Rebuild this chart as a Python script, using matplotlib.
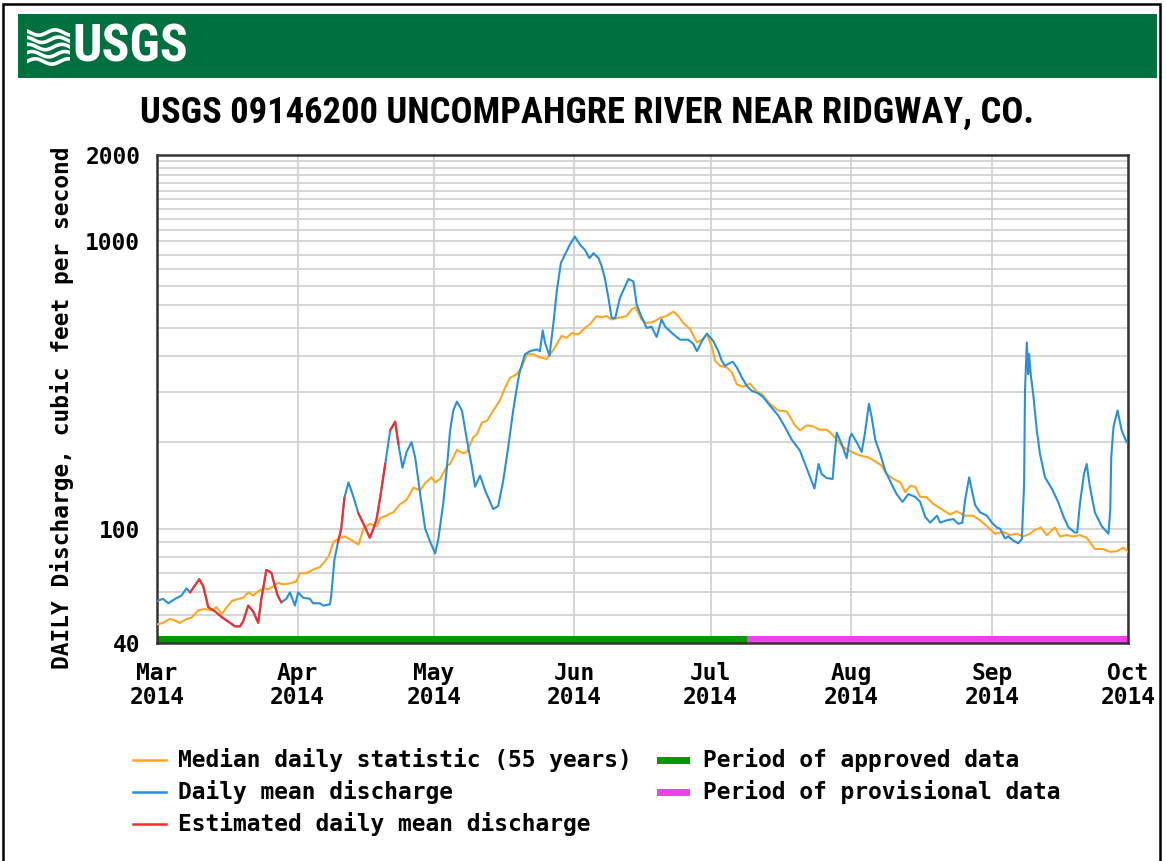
import matplotlib
matplotlib.use('Agg')
import matplotlib.pyplot as plt
from matplotlib import font_manager
from matplotlib.ticker import NullFormatter
from matplotlib.patches import Rectangle
from matplotlib.lines import Line2D
import numpy as np
import pandas as pd

plt.rcParams['font.family'] = ['DejaVu Sans Mono']
plt.rcParams['font.weight'] = 'bold'
plt.rcParams['font.size'] = 16.5

# narrowest sans available for title / logo
installed = {f.name for f in font_manager.fontManager.ttflist}
narrow = next((n for n in ['Liberation Sans Narrow', 'Roboto Condensed', 'Open Sans Condensed',
                           'Noto Sans Condensed', 'Roboto', 'Liberation Sans'] if n in installed),
              'DejaVu Sans')

start = pd.Timestamp('2014-03-01')
end = pd.Timestamp('2014-10-01')
approved_end = pd.Timestamp('2014-07-09')

# daily mean discharge (cfs), x = days after Mar 1 2014
q_days = [0, 1.3, 2.5, 4, 5.4, 6.5, 7.3, 9.3, 10.2, 11.3, 12.8, 14.3, 16.2, 17.2, 18.3, 19,
          20.1, 21.2, 22.3, 23, 24.1, 25.2, 25.9, 26.6, 27.4, 28.5, 29.3, 30.4, 31.1, 32.2,
          33.7, 34.4, 35.9, 36.6, 38.1, 38.4, 39.1, 39.9, 40.6, 41.3, 42.2, 43.3, 44.4, 45.5,
          46.9, 47.7, 48.4, 49.2, 50.3, 51.4, 52.5, 53.2, 54.1, 55, 56.1, 56.9, 58, 59.1,
          60.2, 61.3, 62, 63.1, 63.9, 64.6, 65.3, 66.1, 67.2, 68.3, 69.4, 70.1, 71.2, 72.3,
          74.1, 75.2, 76.3, 77.4, 78.5, 79.6, 80, 81.1, 82.2, 83.7, 84.4, 85, 85.5, 86.5,
          87.4, 88.1, 89, 89.9, 91, 92.1, 93.2, 94.3, 95.3, 96.2, 97.3, 98, 98.7, 99.5,
          100.2, 101, 102, 103.2, 103.9, 105, 105.7, 106.5, 107.9, 109, 110.1, 111.2, 112,
          113.8, 115.3, 117.1, 118.2, 119, 120.1, 121.2, 122.6, 123.7, 124.5, 125.2, 126.3,
          126.9, 127.8, 128.9, 130, 131.1, 132.5, 133.6, 135.1, 136.9, 138.4, 139.9, 141.7,
          143.2, 144.9, 145.8, 146.5, 147.6, 148.9, 149.4, 149.8, 150.9, 152, 152.7, 153.1,
          154.2, 155.3, 156, 156.9, 157.5, 158.3, 159.4, 160.5, 161.9, 163, 164.3, 165.6,
          167.1, 168.2, 169.3, 170.4, 171.9, 172.6, 174.1, 175.5, 176.6, 177.5, 178.1, 179,
          179.6, 180.3, 181.4, 182.9, 184, 185.1, 185.8, 186.9, 187.6, 188.7, 189.8, 190.6,
          191.1, 191.3, 191.7, 192, 192.2, 192.6, 193.1, 193.9, 194.6, 195.7, 197.2, 198.6,
          199.8, 200.9, 202.3, 202.8, 203.4, 204.3, 204.9, 205.6, 206.7, 208.2, 209.7, 210.1,
          210.3, 210.8, 211.7, 212.6, 213.7]
q_vals = [56, 57, 55, 57, 58.5, 62, 60, 66.7, 63, 53.3, 51.5, 49.2, 46.9, 45.7, 45.7, 47.6,
          54, 51.5, 47, 57, 71.8, 70.3, 63.8, 58.5, 55.4, 57, 60, 54, 60, 57.5,
          57, 55, 55, 54, 54.5, 58.5, 78, 90, 100, 128, 145, 129, 113, 104,
          93, 100, 108, 129, 168, 220, 236, 197, 163, 185, 200, 177, 132, 100,
          90, 82, 92, 123, 164, 220, 258, 277, 258, 204, 164, 140, 153, 136,
          117, 120, 147, 192, 258, 330, 355, 405, 415, 421, 415, 490, 445, 400,
          525, 670, 840, 900, 975, 1040, 975, 935, 875, 910, 875, 820, 745, 635,
          542, 542, 635, 700, 740, 725, 605, 560, 500, 505, 465, 535, 505,
          475, 455, 455, 440, 415, 450, 478, 450, 415, 383, 369, 378,
          381, 364, 336, 314, 302, 296, 287, 268, 248, 226, 204, 187,
          162, 138, 168, 155, 150, 149, 185, 216, 197, 176, 208, 214,
          200, 185, 214, 272, 245, 204, 182, 159, 143, 132, 124, 132,
          129, 124, 110, 105, 111, 105, 107, 108, 104, 105, 126, 151,
          136, 121, 114, 111, 105, 101, 100, 92.5, 94, 91, 89, 92,
          143, 302, 445, 345, 405, 340, 295, 220, 182, 151, 138, 124,
          110, 101, 97, 97, 122, 155, 168, 140, 114, 102, 96, 117,
          177, 226, 258, 220, 200]

# stretches of the daily series flagged as estimated (day offsets)
est_ranges = [(7.3, 27.4), (39.9, 41.3), (44.4, 50.3), (51.4, 53.2)]

# median daily statistic (55 years)
med_days = [0, 1.3, 2.8, 3.9, 5, 6.5, 7.6, 9.1, 10.6, 12, 13.1, 14.3, 15.4, 16.5, 18, 19,
            20.1, 21.2, 22.3, 23.5, 24.5, 25.6, 26.7, 27.8, 29.3, 30.7, 31.5, 33, 34.4, 35.9,
            36.7, 37.8, 38.9, 40.3, 41.4, 42.5, 44.4, 45.5, 46.9, 48.4, 49.2, 50.6, 51.4, 52.1,
            53.4, 55, 56.5, 58, 59.1, 60.5, 61.3, 62.4, 64, 64.6, 66.1, 67.5, 68.3, 69.7,
            70.5, 71.6, 72.8, 74.1, 75.6, 76.7, 77.8, 79.3, 80.4, 81.5, 82.9, 84.4, 85.9, 87.4,
            88.5, 89.2, 90.3, 91.4, 92.9, 94.3, 95.4, 96.9, 98, 99.1, 100.2, 101.3, 102.4, 103.5,
            104.6, 105.4, 106.1, 106.8, 107.9, 109.4, 110.9, 112.3, 113.8, 114.9, 116, 117.5,
            119, 120.1, 121.2, 122.3, 123, 124.1, 125.6, 126.7, 127.8, 129.2, 130.7, 132.2,
            133.3, 135.1, 136.9, 138.8, 140.6, 141.7, 143.2, 144.6, 146.1, 147.6, 148.7, 149.8,
            151.3, 153.1, 154.9, 156.8, 157.9, 159.7, 160.8, 162.3, 163.8, 164.9, 166, 167.1,
            168.2, 169.5, 171.1, 172.9, 174.8, 176.2, 178.1, 179.8, 181.4, 182.9, 184.7, 186.5,
            188, 189.5, 190.9, 192.4, 193.5, 194.8, 196.1, 197.9, 199, 200.5, 201.9, 203.4,
            204.9, 206.7, 208.4, 210.1, 211.6, 213, 214]
med_vals = [46.4, 47, 48.5, 48, 47, 48.5, 49, 52, 52.5, 52, 53.3, 50.5, 53.3, 56, 57, 57.5,
            60, 58.5, 60.5, 62, 61.5, 63, 64.8, 64, 64.5, 65.5, 70, 70, 72, 73.5,
            76, 80, 90, 93, 94, 92, 88, 100, 104, 102, 109, 111, 113, 114,
            121, 126, 139, 136, 144, 151, 145, 149, 166, 168, 188, 183, 185, 208,
            213, 234, 238, 258, 280, 310, 335, 345, 365, 405, 405, 395, 390, 420,
            450, 470, 462, 480, 475, 500, 515, 550, 545, 550, 535, 540, 545, 550,
            580, 590, 565, 535, 520, 525, 542, 550, 570, 550, 520, 495,
            445, 455, 475, 430, 384, 369, 364, 350, 318, 312, 320, 300,
            294, 272, 258, 256, 229, 220, 229, 227, 221, 221, 214, 204,
            192, 185, 180, 177, 173, 166, 155, 149, 145, 134, 141, 140,
            129, 129, 122, 117, 112, 115, 111, 111, 107, 102, 96, 97.5,
            95, 96, 94, 96, 99, 101, 95, 101, 94, 95, 94, 95,
            93, 85, 85, 83, 83.5, 86, 83]

title = 'USGS 09146200 UNCOMPAHGRE RIVER NEAR RIDGWAY, CO.'
ylabel = 'DAILY Discharge, cubic feet per second'
yticks = [40, 100, 1000, 2000]
ygrid = [50, 60, 70, 80, 90, 200, 300, 400, 500, 600, 700, 800, 900,
         1100, 1200, 1300, 1400, 1500, 1600, 1700, 1800, 1900]
legend_lines = [('Median daily statistic (55 years)', '#ffa622'),
                ('Daily mean discharge', '#2990d8'),
                ('Estimated daily mean discharge', '#ff2a2a')]
legend_bars = [('Period of approved data', '#009a00'),
               ('Period of provisional data', '#f040e8')]

W, H = 1166, 861
fig = plt.figure(figsize=(W / 100, H / 100), dpi=100)
def fx(p): return p / W
def fy(p): return 1 - p / H

# outer frame + header
fig.patches.append(Rectangle((fx(3), fy(870)), fx(1160 - 3), (870 - 4) / H, transform=fig.transFigure,
                             fill=False, ec='black', lw=1.8))
fig.patches.append(Rectangle((fx(18), fy(78)), fx(1157 - 18), (78 - 14) / H, transform=fig.transFigure,
                             fc='#00703f', ec='none'))
logo_txt = fig.text(fx(72), fy(47), 'USGS', color='white', fontsize=40, weight='bold',
                    family=[narrow, 'DejaVu Sans'], ha='left', va='center')
logo = fig.add_axes([fx(27), fy(66), 43 / W, 38 / H])
logo.set_zorder(5)
logo.set_axis_off()
t = np.linspace(0, 1, 60)
for k in range(5):
    logo.plot(t, 0.12 + 0.19 * k + 0.07 * np.sin(2 * np.pi * (t * 1.3 + 0.1 * k)), color='white', lw=2.6)
logo.set_xlim(0, 1)
logo.set_ylim(0, 1)

title_txt = fig.text(fx(587), fy(113), title, ha='center', va='center', fontsize=23, weight='bold',
                     family=[narrow, 'DejaVu Sans'])

ax = fig.add_axes([fx(157), fy(643), (1128 - 157) / W, (643 - 155) / H])
ax.set_yscale('log')

qd = start + pd.to_timedelta(q_days, unit='D')
md = start + pd.to_timedelta(med_days, unit='D')
q = np.array(q_vals, dtype=float)
dd = np.array(q_days)

ax.plot(md, med_vals, color=legend_lines[0][1], lw=1.5, zorder=3)
ax.plot(qd, q, color=legend_lines[1][1], lw=1.5, zorder=4)
for a, b in est_ranges:
    m = (dd >= a - 1e-6) & (dd <= b + 1e-6)
    ax.plot(qd[m], q[m], color=legend_lines[2][1], lw=1.5, zorder=5)

ax.axvspan(start, approved_end, ymin=0, ymax=0.015, color=legend_bars[0][1], lw=0, zorder=2.5)
ax.axvspan(approved_end, end, ymin=0, ymax=0.015, color=legend_bars[1][1], lw=0, zorder=2.5)

ax.set_xlim(start, end)
ax.set_ylim(40, 2000)
months = pd.date_range(start, end, freq='MS')
ax.set_xticks(months)
ax.set_xticklabels([m.strftime('%b\n%Y') for m in months], linespacing=1.05)
ax.set_yticks(yticks)
ax.set_yticklabels([str(v) for v in yticks])
ax.set_yticks(ygrid, minor=True)
ax.yaxis.set_minor_formatter(NullFormatter())
ax.tick_params(which='both', length=0)
ax.tick_params(axis='y', pad=12)
ax.tick_params(axis='x', pad=14)
ax.grid(True, which='both', axis='y', color='#d2d2d2', lw=1.3, zorder=1)
ax.grid(True, which='major', axis='x', color='#d2d2d2', lw=1.3, zorder=1)
ax.set_axisbelow(True)
for s in ax.spines.values():
    s.set_color('#333333')
    s.set_linewidth(1.8)

fig.text(fx(62), fy(408), ylabel, rotation=90, ha='center', va='center')

# legend
for i, (lab, c) in enumerate(legend_lines):
    y = 760 + 32 * i
    fig.add_artist(Line2D([fx(133), fx(166)], [fy(y), fy(y)], color=c, lw=1.8))
    fig.text(fx(178), fy(y), lab, ha='left', va='center')
for i, (lab, c) in enumerate(legend_bars):
    y = 760 + 32 * i
    fig.patches.append(Rectangle((fx(657), fy(y + 4)), fx(690 - 657), 7 / H, transform=fig.transFigure,
                                 fc=c, ec='none'))
    fig.text(fx(703), fy(y), lab, ha='left', va='center')

# shrink title and logo text to the widths they have in the original
r = fig.canvas.get_renderer()
for txt, target in [(title_txt, 897), (logo_txt, 116)]:
    w = txt.get_window_extent(renderer=r).width
    txt.set_fontsize(txt.get_fontsize() * target / w)

fig.savefig('out.png', dpi=100)
